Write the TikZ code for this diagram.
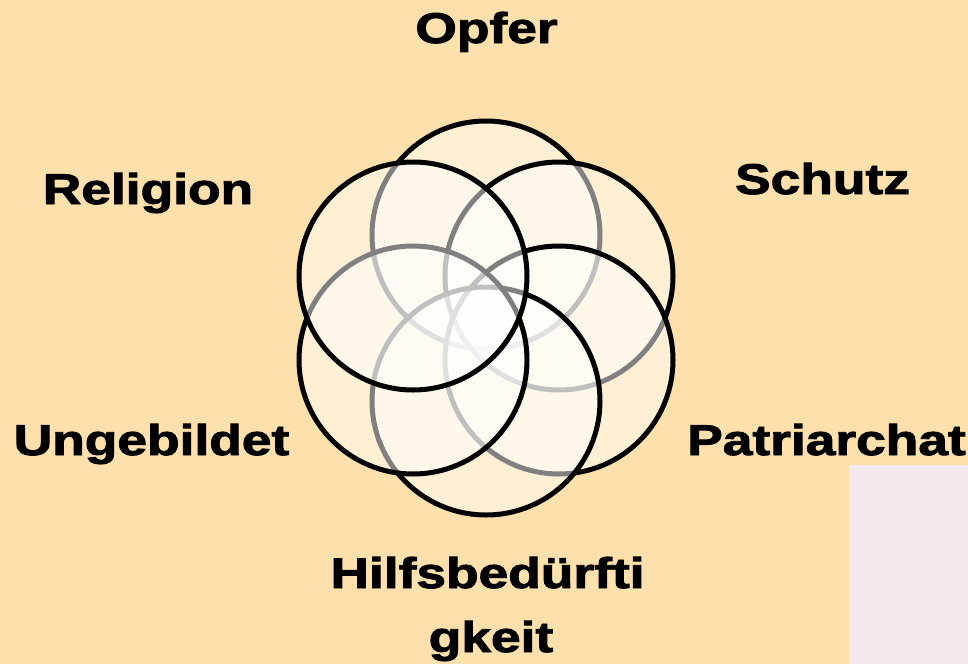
\documentclass[tikz,border=0pt]{standalone}
\usepackage{fontspec}
\setmainfont{Liberation Sans}[BoldFeatures={FakeBold=2}]
\definecolor{bg}{HTML}{FDE0AC}
\definecolor{pinkbox}{HTML}{F4E8EF}
\newcommand{\widetxt}[1]{\scalebox{1.24}[1]{#1}}
\begin{document}
\begin{tikzpicture}[x=1pt,y=-1pt,
  ring/.style={circle, draw=black, line width=5pt, fill=white, fill opacity=0.5, draw opacity=1, minimum size=228pt, inner sep=0pt},
  lbl/.style={font=\fontsize{43}{50}\selectfont\bfseries, anchor=base, inner sep=0pt, text=black}]
\fill[bg] (0,0) rectangle (968,664);
\useasboundingbox (0,0) rectangle (968,664);
\fill[pinkbox] (849,465) rectangle (968,664);
% circles, clockwise from top
\node[ring] (c1) at (486,235) {};
\node[ring] (c2) at (559,276) {};
\node[ring] (c3) at (559,360) {};
\node[ring] (c4) at (486,401) {};
\node[ring] (c5) at (413,360) {};
\node[ring] (c6) at (413,276) {};
% labels
\node[lbl] (opfer) at (486.5,43) {\widetxt{Opfer}};
\node[lbl] (schutz) at (822.5,194) {\widetxt{Schutz}};
\node[lbl] (patriarchat) at (826.5,455) {\widetxt{Patriarchat}};
\node[lbl] (hilfs1) at (487.5,588) {\widetxt{Hilfsbedürfti}};
\node[lbl] (hilfs2) at (491,652) {\widetxt{gkeit}};
\node[lbl] (ungebildet) at (151.5,455) {\widetxt{Ungebildet}};
\node[lbl] (religion) at (148,204) {\widetxt{Religion}};
\end{tikzpicture}
\end{document}
